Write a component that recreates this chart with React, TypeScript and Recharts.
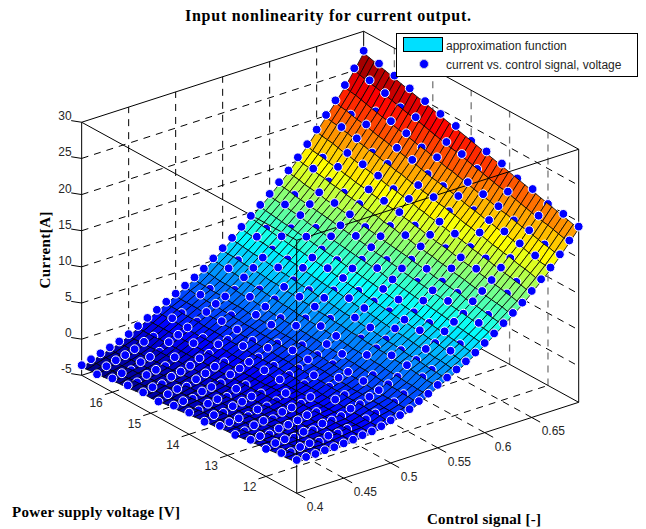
import { Scatter, ScatterChart, XAxis, YAxis } from "recharts";

const controlSignal = [0.4, 0.41, 0.42, 0.43, 0.44, 0.45, 0.46, 0.47, 0.48, 0.49, 0.5, 0.51, 0.52, 0.53, 0.54, 0.55, 0.56, 0.57, 0.58, 0.59, 0.6, 0.61, 0.62, 0.63, 0.64, 0.65, 0.66, 0.67, 0.68, 0.69, 0.7];
const surfaceVoltage = [11.2, 11.34, 11.48, 11.62, 11.76, 11.9, 12.04, 12.18, 12.32, 12.46, 12.6, 12.74, 12.88, 13.02, 13.16, 13.3, 13.44, 13.58, 13.72, 13.86, 14, 14.14, 14.28, 14.42, 14.56, 14.7, 14.84, 14.98, 15.12, 15.26, 15.4, 15.54, 15.68, 15.82, 15.96, 16.1, 16.24, 16.38, 16.52, 16.66, 16.8];
const sampleVoltage = [11.2, 11.6, 12, 12.4, 12.8, 13.2, 13.6, 14, 14.4, 14.8, 15.2, 15.6, 16, 16.4, 16.8];

// approximation function, one row per supply voltage
const surfaceCurrent = [
  [-0.7,-0.7,-0.7,-0.6,-0.6,-0.5,-0.4,-0.2,-0.1,0.2,0.6,0.9,1.3,2.0,2.6,3.4,4.0,4.7,5.4,6.2,7.1,8.0,9.0,10.0,11.0,12.2,13.4,14.6,16.0,17.5,19.0],
  [-0.8,-0.8,-0.8,-0.7,-0.7,-0.6,-0.4,-0.2,-0.1,0.2,0.6,1.0,1.4,2.0,2.7,3.5,4.1,4.8,5.5,6.3,7.2,8.1,9.1,10.1,11.1,12.3,13.5,14.8,16.2,17.7,19.2],
  [-0.9,-0.8,-0.8,-0.7,-0.7,-0.6,-0.4,-0.2,-0.1,0.2,0.7,1.0,1.4,2.1,2.7,3.5,4.2,4.9,5.6,6.4,7.3,8.2,9.2,10.3,11.3,12.5,13.7,14.9,16.4,17.9,19.4],
  [-0.9,-0.9,-0.9,-0.8,-0.7,-0.6,-0.5,-0.2,-0.1,0.2,0.7,1.0,1.5,2.1,2.8,3.6,4.2,5.0,5.7,6.5,7.4,8.3,9.3,10.4,11.4,12.6,13.9,15.1,16.5,18.1,19.6],
  [-1.0,-1.0,-0.9,-0.8,-0.8,-0.6,-0.5,-0.2,-0.1,0.3,0.7,1.1,1.5,2.2,2.8,3.7,4.3,5.0,5.8,6.6,7.5,8.5,9.5,10.5,11.6,12.8,14.0,15.3,16.7,18.3,19.8],
  [-1.1,-1.0,-1.0,-0.9,-0.8,-0.7,-0.5,-0.2,-0.1,0.3,0.8,1.1,1.5,2.2,2.9,3.8,4.4,5.1,5.9,6.7,7.6,8.6,9.6,10.6,11.7,12.9,14.2,15.5,16.9,18.4,20.0],
  [-1.2,-1.1,-1.1,-0.9,-0.9,-0.7,-0.5,-0.2,0.0,0.3,0.8,1.1,1.6,2.3,3.0,3.8,4.5,5.2,6.0,6.8,7.8,8.7,9.7,10.8,11.8,13.1,14.4,15.6,17.1,18.6,20.2],
  [-1.2,-1.2,-1.1,-1.0,-0.9,-0.7,-0.5,-0.2,0.0,0.3,0.8,1.2,1.6,2.3,3.0,3.9,4.5,5.3,6.1,6.9,7.9,8.8,9.8,10.9,12.0,13.2,14.5,15.8,17.2,18.8,20.4],
  [-1.3,-1.3,-1.2,-1.0,-0.9,-0.7,-0.5,-0.2,0.0,0.4,0.8,1.2,1.7,2.4,3.1,3.9,4.6,5.4,6.2,7.0,8.0,8.9,10.0,11.0,12.1,13.4,14.7,16.0,17.4,19.0,20.6],
  [-1.4,-1.3,-1.2,-1.1,-1.0,-0.8,-0.5,-0.2,0.0,0.4,0.9,1.2,1.7,2.4,3.2,4.0,4.7,5.5,6.3,7.1,8.1,9.0,10.1,11.2,12.3,13.5,14.8,16.1,17.6,19.2,20.8],
  [-1.5,-1.4,-1.3,-1.1,-1.0,-0.8,-0.6,-0.2,0.0,0.4,0.9,1.3,1.8,2.5,3.2,4.1,4.8,5.6,6.4,7.2,8.2,9.2,10.2,11.3,12.4,13.7,15.0,16.3,17.8,19.4,21.0],
  [-1.6,-1.5,-1.3,-1.2,-1.0,-0.8,-0.6,-0.2,0.0,0.4,0.9,1.3,1.8,2.5,3.3,4.1,4.8,5.6,6.5,7.3,8.3,9.3,10.3,11.4,12.5,13.8,15.2,16.5,17.9,19.6,21.2],
  [-1.7,-1.5,-1.4,-1.2,-1.1,-0.9,-0.6,-0.2,0.1,0.5,1.0,1.4,1.9,2.6,3.3,4.2,4.9,5.7,6.5,7.4,8.4,9.4,10.4,11.6,12.7,14.0,15.3,16.6,18.1,19.8,21.4],
  [-1.7,-1.6,-1.4,-1.3,-1.1,-0.9,-0.6,-0.2,0.1,0.5,1.0,1.4,1.9,2.6,3.4,4.2,5.0,5.8,6.6,7.5,8.5,9.5,10.5,11.7,12.8,14.2,15.5,16.8,18.3,19.9,21.6],
  [-1.8,-1.7,-1.5,-1.3,-1.2,-0.9,-0.6,-0.2,0.1,0.5,1.0,1.5,2.0,2.7,3.4,4.3,5.1,5.9,6.7,7.6,8.6,9.6,10.7,11.8,13.0,14.3,15.6,17.0,18.5,20.1,21.8],
  [-1.9,-1.7,-1.6,-1.4,-1.2,-1.0,-0.6,-0.2,0.1,0.5,1.0,1.5,2.0,2.8,3.5,4.4,5.1,6.0,6.8,7.7,8.7,9.7,10.8,12.0,13.1,14.4,15.8,17.1,18.6,20.3,22.0],
  [-2.0,-1.8,-1.7,-1.4,-1.3,-1.0,-0.6,-0.2,0.1,0.6,1.1,1.5,2.1,2.8,3.6,4.4,5.2,6.1,6.9,7.8,8.8,9.8,10.9,12.1,13.2,14.6,16.0,17.3,18.8,20.5,22.2],
  [-2.0,-1.9,-1.7,-1.5,-1.3,-1.0,-0.6,-0.2,0.1,0.6,1.1,1.6,2.1,2.9,3.6,4.5,5.3,6.2,7.0,7.9,8.9,9.9,11.0,12.2,13.4,14.7,16.1,17.5,19.0,20.7,22.4],
  [-2.1,-2.0,-1.8,-1.6,-1.4,-1.0,-0.7,-0.3,0.1,0.6,1.1,1.6,2.2,2.9,3.7,4.6,5.4,6.2,7.1,8.1,9.0,10.1,11.2,12.3,13.5,14.9,16.3,17.7,19.2,20.9,22.6],
  [-2.2,-2.0,-1.8,-1.6,-1.4,-1.1,-0.7,-0.3,0.2,0.7,1.2,1.7,2.2,3.0,3.8,4.6,5.4,6.3,7.2,8.2,9.2,10.2,11.3,12.5,13.7,15.0,16.4,17.9,19.4,21.1,22.8],
  [-2.3,-2.1,-1.9,-1.7,-1.5,-1.1,-0.7,-0.3,0.2,0.7,1.2,1.7,2.3,3.0,3.8,4.7,5.5,6.4,7.3,8.3,9.3,10.3,11.4,12.6,13.8,15.2,16.6,18.0,19.6,21.3,23.0],
  [-2.4,-2.2,-2.0,-1.7,-1.5,-1.1,-0.7,-0.3,0.2,0.7,1.2,1.8,2.3,3.1,3.9,4.8,5.6,6.5,7.4,8.4,9.4,10.4,11.5,12.7,14.0,15.3,16.8,18.2,19.7,21.5,23.2],
  [-2.5,-2.2,-2.0,-1.8,-1.5,-1.2,-0.7,-0.3,0.2,0.7,1.3,1.8,2.4,3.1,3.9,4.8,5.7,6.6,7.5,8.5,9.5,10.5,11.6,12.9,14.1,15.5,16.9,18.3,19.9,21.6,23.4],
  [-2.5,-2.3,-2.1,-1.8,-1.6,-1.2,-0.8,-0.3,0.2,0.7,1.3,1.8,2.4,3.2,4.0,4.9,5.7,6.7,7.6,8.6,9.6,10.7,11.8,13.0,14.3,15.7,17.1,18.5,20.1,21.8,23.6],
  [-2.6,-2.4,-2.1,-1.9,-1.6,-1.2,-0.8,-0.3,0.2,0.7,1.3,1.9,2.4,3.2,4.0,5.0,5.8,6.7,7.7,8.7,9.7,10.8,11.9,13.1,14.4,15.8,17.2,18.7,20.3,22.0,23.8],
  [-2.7,-2.5,-2.2,-1.9,-1.7,-1.3,-0.8,-0.3,0.2,0.8,1.3,1.9,2.5,3.2,4.1,5.0,5.9,6.8,7.8,8.8,9.8,10.9,12.0,13.3,14.5,16.0,17.4,18.9,20.5,22.2,24.0],
  [-2.8,-2.5,-2.3,-2.0,-1.7,-1.3,-0.8,-0.3,0.2,0.8,1.4,1.9,2.5,3.3,4.2,5.1,6.0,6.9,7.9,8.9,9.9,11.0,12.1,13.4,14.6,16.1,17.6,19.0,20.6,22.4,24.2],
  [-2.9,-2.6,-2.3,-2.0,-1.7,-1.3,-0.8,-0.3,0.3,0.8,1.4,2.0,2.6,3.3,4.2,5.2,6.0,7.0,8.0,9.0,10.0,11.1,12.2,13.5,14.8,16.2,17.7,19.2,20.8,22.6,24.4],
  [-2.9,-2.7,-2.4,-2.1,-1.8,-1.3,-0.8,-0.3,0.3,0.8,1.4,2.0,2.6,3.4,4.3,5.2,6.1,7.1,8.1,9.1,10.1,11.2,12.4,13.6,14.9,16.4,17.9,19.4,21.0,22.8,24.6],
  [-3.0,-2.7,-2.5,-2.2,-1.8,-1.4,-0.8,-0.3,0.3,0.8,1.5,2.0,2.6,3.4,4.3,5.3,6.2,7.2,8.2,9.2,10.2,11.3,12.5,13.8,15.1,16.5,18.0,19.5,21.2,23.0,24.8],
  [-3.1,-2.8,-2.5,-2.2,-1.9,-1.4,-0.9,-0.3,0.3,0.9,1.5,2.1,2.7,3.5,4.4,5.4,6.3,7.3,8.3,9.3,10.3,11.5,12.6,13.9,15.2,16.7,18.2,19.7,21.3,23.1,25.0],
  [-3.2,-2.9,-2.6,-2.3,-2.0,-1.4,-0.9,-0.3,0.3,0.9,1.5,2.1,2.8,3.6,4.5,5.4,6.3,7.4,8.4,9.4,10.4,11.6,12.7,14.0,15.3,16.8,18.4,19.9,21.5,23.3,25.2],
  [-3.3,-2.9,-2.6,-2.3,-2.0,-1.5,-0.9,-0.3,0.3,0.9,1.6,2.2,2.8,3.6,4.5,5.5,6.4,7.4,8.4,9.5,10.5,11.7,12.8,14.2,15.5,17.0,18.5,20.0,21.7,23.5,25.4],
  [-3.3,-3.0,-2.7,-2.4,-2.0,-1.5,-0.9,-0.3,0.3,0.9,1.6,2.2,2.8,3.6,4.6,5.6,6.5,7.5,8.5,9.6,10.6,11.8,12.9,14.3,15.6,17.1,18.7,20.2,21.8,23.7,25.6],
  [-3.4,-3.1,-2.7,-2.4,-2.1,-1.5,-0.9,-0.3,0.3,1.0,1.6,2.3,2.9,3.7,4.6,5.6,6.6,7.6,8.6,9.7,10.8,11.9,13.1,14.4,15.8,17.3,18.8,20.4,22.0,23.9,25.8],
  [-3.5,-3.1,-2.8,-2.5,-2.1,-1.5,-0.9,-0.3,0.3,1.0,1.6,2.3,3.0,3.8,4.7,5.7,6.7,7.7,8.7,9.8,10.9,12.0,13.2,14.6,15.9,17.4,19.0,20.6,22.2,24.1,26.0],
  [-3.6,-3.2,-2.9,-2.5,-2.1,-1.6,-0.9,-0.3,0.4,1.0,1.7,2.3,3.0,3.8,4.8,5.7,6.7,7.8,8.8,9.9,11.0,12.1,13.3,14.7,16.0,17.6,19.2,20.7,22.4,24.3,26.2],
  [-3.6,-3.3,-2.9,-2.6,-2.2,-1.6,-1.0,-0.3,0.4,1.0,1.7,2.4,3.0,3.8,4.8,5.8,6.8,7.8,8.9,10.0,11.1,12.2,13.4,14.8,16.2,17.8,19.3,20.9,22.6,24.4,26.4],
  [-3.7,-3.4,-3.0,-2.6,-2.2,-1.6,-1.0,-0.3,0.4,1.1,1.7,2.4,3.1,3.9,4.9,5.9,6.9,7.9,9.0,10.1,11.2,12.4,13.6,14.9,16.3,17.9,19.5,21.1,22.8,24.6,26.6],
  [-3.8,-3.4,-3.0,-2.7,-2.2,-1.7,-1.0,-0.3,0.4,1.1,1.7,2.5,3.1,4.0,5.0,5.9,7.0,8.0,9.1,10.2,11.3,12.5,13.7,15.0,16.4,18.0,19.6,21.2,22.9,24.8,26.8],
  [-3.9,-3.5,-3.1,-2.7,-2.3,-1.7,-1.0,-0.3,0.4,1.1,1.8,2.5,3.2,4.0,5.0,6.0,7.0,8.1,9.2,10.3,11.4,12.6,13.8,15.2,16.6,18.2,19.8,21.4,23.1,25.0,27.0],
];

// measured current vs. control signal, one row per sample voltage
const sampleCurrent = [
  [-0.4,-0.4,-0.4,-0.3,-0.3,-0.2,-0.1,0.1,0.2,0.5,0.9,1.2,1.6,2.3,2.9,3.7,4.3,5.0,5.7,6.5,7.4,8.3,9.3,10.3,11.3,12.5,13.7,14.9,16.3,17.8,19.3],
  [-0.6,-0.9,-0.6,-0.5,-0.7,-0.3,-0.4,-0.2,-0.4,0.3,0.7,0.7,1.4,2.1,2.5,3.6,4.2,4.6,6.0,6.5,7.1,8.6,9.3,10.1,11.4,12.6,13.6,15.4,16.5,17.7,19.9],
  [-1.2,-0.8,-0.7,-0.9,-0.5,-0.7,-0.2,-0.2,0.0,0.6,0.8,1.4,1.9,2.3,2.9,4.1,4.4,5.5,5.9,7.1,8.0,8.7,10.0,11.0,12.1,13.4,14.3,15.9,17.3,18.9,20.1],
  [-1.1,-1.0,-1.2,-0.8,-0.7,-0.5,-0.2,-0.2,-0.3,0.7,0.9,0.9,2.0,2.4,2.8,4.3,4.6,5.1,6.5,7.1,7.7,9.3,10.0,10.8,12.5,13.5,14.5,16.4,17.5,18.8,21.0],
  [-1.6,-1.5,-1.1,-0.9,-1.1,-0.5,-0.3,-0.2,0.3,0.2,0.9,1.7,2.1,2.3,3.6,4.1,4.9,6.0,6.8,7.4,8.6,9.6,10.4,11.8,12.9,13.9,15.5,16.8,18.3,19.9,21.3],
  [-1.5,-1.4,-1.3,-1.4,-0.9,-0.9,-0.6,0.1,-0.2,0.5,1.3,1.2,2.0,3.0,3.2,4.3,5.4,5.6,6.8,8.0,8.3,9.6,11.0,11.6,13.0,14.6,15.4,17.0,18.8,19.9,22.2],
  [-2.1,-1.6,-1.7,-1.2,-1.0,-0.7,-0.7,-0.5,0.4,0.6,1.1,1.9,2.1,3.2,3.9,4.2,5.6,6.5,7.0,8.3,9.2,10.3,11.1,12.5,13.7,15.1,16.1,17.8,19.3,20.7,22.7],
  [-2.0,-2.1,-1.6,-1.4,-1.5,-0.8,-0.7,-0.6,0.5,0.7,0.9,2.0,2.3,2.7,4.1,4.7,5.2,6.7,7.3,8.0,9.6,10.3,11.1,12.9,13.8,14.9,16.9,18.0,19.3,21.6,23.0],
  [-2.2,-2.0,-2.1,-1.5,-1.3,-1.2,-0.4,0.0,0.5,0.7,1.6,1.8,2.1,3.4,4.0,5.2,6.0,6.6,7.9,8.8,9.6,10.9,12.0,13.0,14.5,15.9,17.4,18.5,20.4,22.1,23.9],
  [-2.8,-2.2,-1.9,-2.0,-1.4,-1.0,-0.5,-0.3,-0.1,1.1,1.4,1.6,2.8,3.3,3.8,5.4,5.9,6.6,8.1,8.8,9.6,11.3,12.1,13.0,14.9,16.1,17.2,19.3,20.6,22.0,24.4],
  [-2.7,-2.4,-2.4,-1.8,-1.5,-1.1,-0.5,-0.3,0.6,0.8,1.8,1.7,3.0,3.7,4.3,5.6,6.1,7.4,8.4,9.1,10.5,11.6,12.7,13.7,15.3,16.8,18.0,19.8,21.4,23.2,25.0],
  [-2.9,-2.9,-2.3,-2.0,-1.9,-1.1,-1.2,0.0,0.3,0.6,1.8,2.2,2.5,3.9,4.5,5.1,6.7,7.4,8.1,9.7,10.5,11.3,13.1,14.1,15.1,17.2,18.4,19.6,21.9,23.4,25.6],
  [-3.1,-2.8,-2.8,-2.1,-1.8,-1.5,-0.6,0.0,0.6,1.0,1.9,2.6,3.2,3.7,5.0,5.9,6.9,7.6,9.0,9.7,11.1,12.2,13.4,14.5,16.1,17.6,19.2,20.7,22.1,24.2,26.2],
  [-3.7,-3.0,-2.6,-2.3,-1.9,-1.3,-1.0,-0.6,0.7,1.0,1.4,2.7,3.1,3.6,5.1,5.8,6.5,8.2,8.9,9.7,11.4,12.3,13.2,15.1,16.2,17.5,19.6,20.9,22.3,24.8,26.7],
  [-3.6,-3.2,-2.8,-2.4,-2.0,-1.4,-0.7,0.0,0.7,1.4,2.1,2.8,3.5,4.3,5.3,6.3,7.3,8.4,9.5,10.6,11.7,12.9,14.1,15.5,16.9,18.5,20.1,21.7,23.4,25.3,27.3],
];

const currentTicks = [-5, 0, 5, 10, 15, 20, 25, 30];
const voltageTicks = [12, 13, 14, 15, 16];
const controlTicks = [0.4, 0.45, 0.5, 0.55, 0.6, 0.65];

const WIDTH = 646;
const HEIGHT = 529;
const C_MIN = 0.4;
const C_MAX = 0.7;
const V_MIN = 11.2;
const V_MAX = 16.8;
const Z_MIN = -5;
const Z_MAX = 30;

// orthographic view of the box, screen units per data unit
function project(c: number, v: number, z: number) {
  return {
    sx: 296.7 + 940 * (c - C_MIN) - 38.4 * (v - V_MIN),
    sy: 493.3 - 303.3 * (c - C_MIN) - 21.07 * (v - V_MIN) - 7.23 * (z - Z_MIN),
  };
}

function jet(t: number) {
  const part = (x: number) => Math.round(255 * Math.max(0, Math.min(1, 1.5 - Math.abs(4 * t - x))));
  return `rgb(${part(3)},${part(2)},${part(1)})`;
}

const lastRow = surfaceVoltage.length - 1;
const zLow = surfaceCurrent[lastRow][0];
const zHigh = surfaceCurrent[lastRow][30];
const rowStep = surfaceVoltage[1] - surfaceVoltage[0];

type Item = {
  sx: number;
  sy: number;
  depth: number;
  corners?: { dx: number; dy: number }[];
  fill?: string;
};

// rows are closer together than columns, so depth counts them at 0.7
const quads: Item[] = [];
for (let j = 0; j < lastRow; j++) {
  for (let i = 0; i < controlSignal.length - 1; i++) {
    const nodes = [
      [i, j],
      [i + 1, j],
      [i + 1, j + 1],
      [i, j + 1],
    ].map(([a, b]) => project(controlSignal[a], surfaceVoltage[b], surfaceCurrent[b][a]));
    const mean = (surfaceCurrent[j][i] + surfaceCurrent[j][i + 1] + surfaceCurrent[j + 1][i + 1] + surfaceCurrent[j + 1][i]) / 4;
    quads.push({
      sx: nodes[0].sx,
      sy: nodes[0].sy,
      depth: i + 0.5 + (j + 0.5) * 0.7,
      corners: nodes.map((n) => ({ dx: n.sx - nodes[0].sx, dy: n.sy - nodes[0].sy })),
      fill: jet((mean - zLow) / (zHigh - zLow)),
    });
  }
}

const dotsUnder: Item[] = [];
const dotsMixed: Item[] = [];
const dotsOver: Item[] = [];
sampleVoltage.forEach((v, k) => {
  controlSignal.forEach((c, i) => {
    const z = sampleCurrent[k][i];
    const rowAt = (v - V_MIN) / rowStep;
    const lower = Math.min(Math.floor(rowAt + 1e-6), lastRow - 1);
    const mix = rowAt - lower;
    const surfaceZ = surfaceCurrent[lower][i] * (1 - mix) + surfaceCurrent[lower + 1][i] * mix;
    const gap = z - surfaceZ;
    const dot = { ...project(c, v, z), depth: i + rowAt * 0.7 };
    if (gap > 0.15) dotsOver.push(dot);
    else if (gap > -0.15) dotsMixed.push(dot);
    else dotsUnder.push(dot);
  });
});

const painted = [...dotsUnder.map((d) => ({ ...d, depth: 1000 })), ...dotsMixed, ...quads].sort((a, b) => b.depth - a.depth);

function QuadOrDot(props: any) {
  const { cx, cy, payload } = props;
  if (payload.corners) {
    const points = payload.corners.map((p: any) => `${cx + p.dx},${cy + p.dy}`).join(" ");
    return <polygon points={points} fill={payload.fill} stroke="#000" strokeWidth={0.8} />;
  }
  return <circle cx={cx} cy={cy} r={4.4} fill="#0000ff" stroke="#fff" strokeWidth={1} />;
}

type Wire = { from: number[]; to: number[]; dash?: boolean; grey?: boolean };

const pt = (p: number[]) => project(p[0], p[1], p[2]);

const backWires: Wire[] = [];
currentTicks.slice(1, -1).forEach((z) => {
  backWires.push({ from: [C_MIN, V_MAX, z], to: [C_MAX, V_MAX, z], dash: true });
  backWires.push({ from: [C_MAX, V_MAX, z], to: [C_MAX, V_MIN, z], dash: true });
});
controlTicks.slice(1).forEach((c) => {
  backWires.push({ from: [c, V_MAX, Z_MIN], to: [c, V_MAX, Z_MAX], dash: true });
  backWires.push({ from: [c, V_MIN, Z_MIN], to: [c, V_MAX, Z_MIN], dash: true });
});
voltageTicks.forEach((v) => {
  backWires.push({ from: [C_MAX, v, Z_MIN], to: [C_MAX, v, Z_MAX], dash: true, grey: true });
  backWires.push({ from: [C_MIN, v, Z_MIN], to: [C_MAX, v, Z_MIN], dash: true });
});
backWires.push(
  { from: [C_MIN, V_MAX, Z_MAX], to: [C_MAX, V_MAX, Z_MAX] },
  { from: [C_MAX, V_MAX, Z_MAX], to: [C_MAX, V_MIN, Z_MAX] },
  { from: [C_MAX, V_MAX, Z_MIN], to: [C_MAX, V_MAX, Z_MAX] },
  { from: [C_MIN, V_MAX, Z_MIN], to: [C_MAX, V_MAX, Z_MIN] },
  { from: [C_MAX, V_MAX, Z_MIN], to: [C_MAX, V_MIN, Z_MIN] },
  { from: [C_MIN, V_MAX, Z_MIN], to: [C_MIN, V_MAX, Z_MAX] },
  { from: [C_MAX, V_MIN, Z_MIN], to: [C_MAX, V_MIN, Z_MAX] },
  { from: [C_MIN, V_MIN, Z_MIN], to: [C_MIN, V_MAX, Z_MIN] },
  { from: [C_MIN, V_MIN, Z_MIN], to: [C_MAX, V_MIN, Z_MIN] },
);
currentTicks.forEach((z) => backWires.push({ from: [C_MIN, V_MAX, z], to: [C_MIN - 0.005, V_MAX + 0.15, z] }));
voltageTicks.forEach((v) => backWires.push({ from: [C_MIN, v, Z_MIN], to: [C_MIN - 0.008, v, Z_MIN] }));
controlTicks.forEach((c) => backWires.push({ from: [c, V_MIN, Z_MIN], to: [c, V_MIN - 0.22, Z_MIN] }));

const frontWires: Wire[] = [
  { from: [C_MIN, V_MIN, Z_MIN], to: [C_MIN, V_MIN, Z_MAX] },
  { from: [C_MIN, V_MIN, Z_MAX], to: [C_MIN, V_MAX, Z_MAX] },
  { from: [C_MIN, V_MIN, Z_MAX], to: [C_MAX, V_MIN, Z_MAX] },
];

const SANS = "'Liberation Sans', Arial, sans-serif";
const SERIF = "'Liberation Serif', serif";

type Caption = { sx: number; sy: number; text: string; anchor: string; size: number; bold?: boolean; rotate?: boolean; fit?: number };

const captions: Caption[] = [
  ...currentTicks.map((z) => {
    const p = project(C_MIN, V_MAX, z);
    return { sx: p.sx - 10, sy: p.sy - 2, text: String(z), anchor: "end", size: 12 };
  }),
  ...voltageTicks.map((v) => {
    const p = project(C_MIN, v, Z_MIN);
    return { sx: p.sx - 23, sy: p.sy + 15, text: String(v), anchor: "start", size: 12 };
  }),
  ...controlTicks.map((c) => {
    const p = project(c, V_MIN, Z_MIN);
    return { sx: p.sx + 10, sy: p.sy + 18, text: String(c), anchor: "start", size: 12 };
  }),
  { sx: 328, sy: 21, text: "Input nonlinearity for current output.", anchor: "middle", size: 16, bold: true, fit: 286 },
  { sx: 12, sy: 517, text: "Power supply voltage [V]", anchor: "start", size: 15, bold: true, fit: 168 },
  { sx: 427, sy: 524, text: "Control signal [-]", anchor: "start", size: 15, bold: true, fit: 114 },
  { sx: 50, sy: 250, text: "Current[A]", anchor: "middle", size: 15, bold: true, rotate: true, fit: 77 },
];

function CaptionText(props: any) {
  const { cx, cy, payload } = props;
  return (
    <text
      x={cx}
      y={cy}
      textAnchor={payload.anchor}
      fontSize={payload.size}
      fontFamily={payload.bold ? SERIF : SANS}
      fontWeight={payload.bold ? 700 : 400}
      fill={payload.bold ? "#000" : "#262626"}
      textLength={payload.fit}
      lengthAdjust={payload.fit ? "spacing" : undefined}
      transform={payload.rotate ? `rotate(-90 ${cx} ${cy})` : undefined}
    >
      {payload.text}
    </text>
  );
}

const noMark = () => <g />;

function renderWire(w: Wire, key: string) {
  return (
    <Scatter
      key={key}
      data={[pt(w.from), pt(w.to)]}
      shape={noMark}
      line={{
        stroke: w.grey ? "#777" : "#000",
        strokeWidth: w.grey ? 1.3 : 1,
        strokeDasharray: w.dash ? "7 6" : undefined,
      }}
      isAnimationActive={false}
    />
  );
}

function LegendBox() {
  return (
    <div
      style={{
        position: "absolute",
        left: 396,
        top: 33,
        width: 240,
        height: 42,
        background: "#fff",
        border: "1.5px solid #000",
        fontFamily: SANS,
        fontSize: 12,
        color: "#262626",
      }}
    >
      <div style={{ position: "absolute", left: 6, top: 3, width: 38, height: 13, background: "#00dfff", border: "1px solid #000" }} />
      <div style={{ position: "absolute", left: 49, top: 5, whiteSpace: "nowrap" }}>approximation function</div>
      <div style={{ position: "absolute", left: 22, top: 25, width: 8, height: 8, borderRadius: "50%", background: "#0000ff", border: "1px solid #ccd" }} />
      <div style={{ position: "absolute", left: 49, top: 24, whiteSpace: "nowrap" }}>current vs. control signal, voltage</div>
    </div>
  );
}

export default function App() {
  return (
    <div style={{ position: "absolute", left: 0, top: 0, width: WIDTH, height: HEIGHT, background: "#fff" }}>
      <ScatterChart width={WIDTH} height={HEIGHT} margin={{ top: 0, right: 0, bottom: 0, left: 0 }}>
        <XAxis type="number" dataKey="sx" domain={[0, WIDTH]} hide />
        <YAxis type="number" dataKey="sy" domain={[0, HEIGHT]} reversed hide />
        {backWires.map((w, n) => renderWire(w, `back-${n}`))}
        <Scatter data={painted} shape={QuadOrDot} isAnimationActive={false} />
        {frontWires.map((w, n) => renderWire(w, `front-${n}`))}
        <Scatter data={dotsOver} shape={QuadOrDot} isAnimationActive={false} />
        <Scatter data={captions} shape={CaptionText} isAnimationActive={false} />
      </ScatterChart>
      <LegendBox />
    </div>
  );
}
